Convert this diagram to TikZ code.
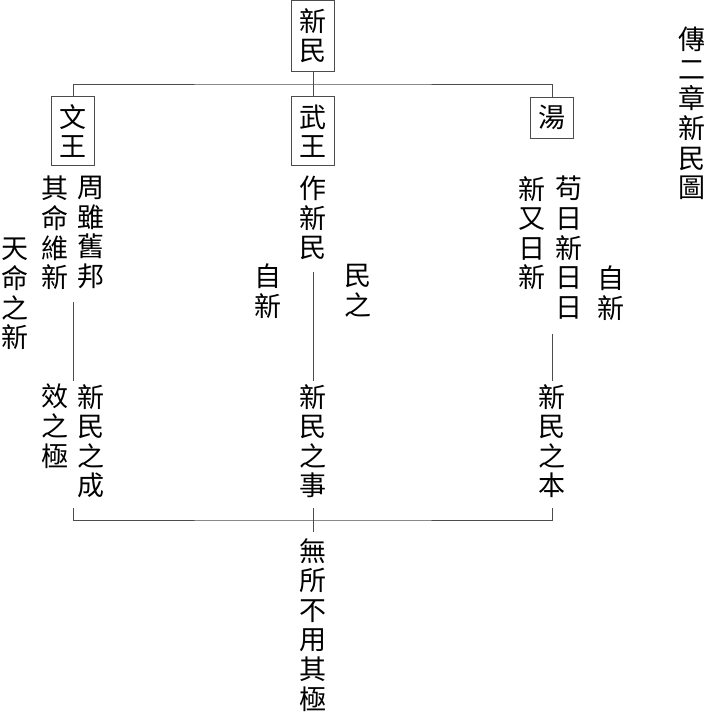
\documentclass[tikz,border=0pt]{standalone}
\usepackage{fontspec}
\newfontfamily\cjk{Noto Sans CJK TC}
\usetikzlibrary{positioning}
\tikzset{
  col/.style={inner sep=0pt, align=center, anchor=north,
    font=\cjk\fontsize{27}{29.6}\selectfont},
  box/.style={col, draw=black!70, line width=1pt, inner xsep=8pt, inner ysep=8pt},
  link/.style={draw=black!70, line width=1pt}
}
\begin{document}
\begin{tikzpicture}[x=1pt,y=-1pt]
  \useasboundingbox (0,0) rectangle (707,718);
  % top and kings
  \node[box] (xinmin) at (313,0) {新\\民};
  \node[box] (wen) at (73,96) {文\\王};
  \node[box] (wu) at (313,96) {武\\王};
  \node[box] (tang) at (552,97) {湯};
  \node[col] (title) at (692,27) {傳\\二\\章\\新\\民\\圖};
  \coordinate (bar) at (313,84);
  \draw[link] (xinmin.south) -- (wu.north);
  \draw[link] (wen.north) |- (bar) -| (tang.north);
  % wen wang
  \node[col] (wen1) at (55,176) {其\\命\\維\\新};
  \node[col] (wen2) at (91,176) {周\\雖\\舊\\邦};
  \node[col] (wen3) at (15,238) {天\\命\\之\\新};
  \node[col] (wen4) at (55,384) {效\\之\\極};
  \node[col] (wen5) at (91,384) {新\\民\\之\\成};
  \coordinate (wtop) at (73,302);
  \coordinate (wbot) at (73,381);
  \draw[link] (wtop) -- (wbot);
  % wu wang
  \node[col] (wu1) at (313,176) {作\\新\\民};
  \node[col] (wu2) at (268,264) {自\\新};
  \node[col] (wu3) at (358,264) {民\\之};
  \node[col] (wu4) at (313,384) {新\\民\\之\\事};
  \coordinate (mtop) at (313,272);
  \coordinate (mbot) at (313,381);
  \draw[link] (mtop) -- (mbot);
  % tang
  \node[col] (tang1) at (532,176) {新\\又\\日\\新};
  \node[col] (tang2) at (569,176) {苟\\日\\新\\日\\日};
  \node[col] (tang3) at (611,266) {自\\新};
  \node[col] (tang4) at (552,384) {新\\民\\之\\本};
  \coordinate (ttop) at (552,334);
  \coordinate (tbot) at (552,381);
  \draw[link] (ttop) -- (tbot);
  % bottom
  \node[col] (ji) at (313,538) {無\\所\\不\\用\\其\\極};
  \coordinate (lend) at (73,508);
  \coordinate (rend) at (552,508);
  \coordinate (low) at (313,520);
  \coordinate (ctop) at (313,508);
  \coordinate (cbot) at (313,532);
  \draw[link] (lend) |- (low) -| (rend);
  \draw[link] (ctop) -- (cbot);
\end{tikzpicture}
\end{document}
